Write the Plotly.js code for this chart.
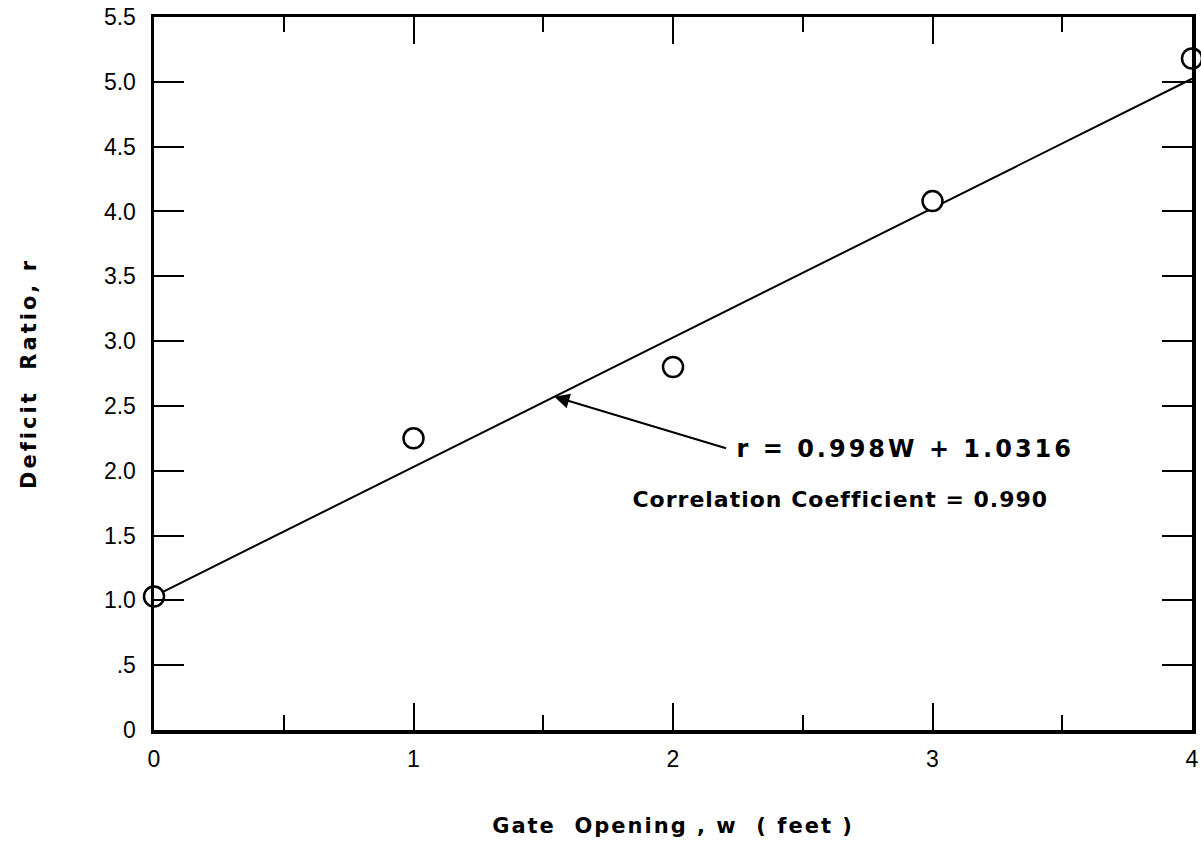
<!DOCTYPE html>
<html>
<head>
<meta charset="utf-8">
<script src="https://cdn.plot.ly/plotly-3.0.1.min.js"></script>
<style>
  html, body { margin: 0; padding: 0; background: #fff; }
  #chart { width: 1201px; height: 855px; }
  #chart .xtitle { letter-spacing: 2px; }
  #chart .ytitle { letter-spacing: 3px; }
  #chart g.annotation[data-index="1"] text { letter-spacing: 3px; }
  #chart g.annotation[data-index="2"] text { letter-spacing: 1px; }
</style>
</head>
<body>
<div id="chart"></div>
<script>
const gateOpening = [0, 1, 2, 3, 4];
const deficitRatio = [1.03, 2.25, 2.80, 4.08, 5.18];

// Regression fit
const slope = 0.998;
const intercept = 1.0316;
const fitRange = [0, 4];

// Tick labels
const xTickVals = [0, 1, 2, 3, 4];
const xTickText = ['0', '1', '2', '3', '4'];
const yTickVals = [0, 0.5, 1.0, 1.5, 2.0, 2.5, 3.0, 3.5, 4.0, 4.5, 5.0, 5.5];
const yTickText = ['0', '.5', '1.0', '1.5', '2.0', '2.5', '3.0', '3.5', '4.0', '4.5', '5.0', '5.5'];

// Annotation texts
const eqText = 'r = 0.998W + 1.0316';
const corrText = 'Correlation Coefficient = 0.990';
const arrowTipX = 1.543;
const arrowTailX = 2.21;
const arrowTailY = 2.17;

const fitY = fitRange.map(x => slope * x + intercept);

const boldFont = 'DejaVu Sans, Liberation Sans, Arial, sans-serif';
const tickFont = 'Liberation Sans, Arial, sans-serif';

const traces = [
  {
    x: fitRange, y: fitY, type: 'scatter', mode: 'lines',
    line: { color: '#000', width: 2 }, hoverinfo: 'skip', showlegend: false
  },
  {
    x: gateOpening, y: deficitRatio, type: 'scatter', mode: 'markers',
    marker: { symbol: 'circle', size: 20, color: '#fff', line: { color: '#000', width: 2.5 } },
    cliponaxis: false, showlegend: false
  }
];

const layout = {
  width: 1201, height: 855,
  margin: { l: 154, r: 9, t: 17, b: 125 },
  paper_bgcolor: '#fff', plot_bgcolor: '#fff',
  showlegend: false,
  xaxis: {
    range: [0, 4], showgrid: false, zeroline: false,
    showline: true, linecolor: '#000', linewidth: 3.5, mirror: 'allticks',
    tickvals: xTickVals, ticktext: xTickText,
    ticks: 'inside', ticklen: 27, tickwidth: 2, tickcolor: '#000',
    minor: { tickvals: [0.5, 1.5, 2.5, 3.5], ticks: 'inside', ticklen: 15, tickwidth: 2, tickcolor: '#000' },
    tickfont: { family: tickFont, size: 23, color: '#000' },
    ticklabelstandoff: 6,
    title: { text: '<b>Gate  Opening , w  ( feet )</b>', font: { family: boldFont, size: 21, color: '#000' }, standoff: 48 },
    automargin: false
  },
  yaxis: {
    range: [0, 5.5], showgrid: false, zeroline: false,
    showline: true, linecolor: '#000', linewidth: 3.5, mirror: 'allticks',
    tickvals: yTickVals, ticktext: yTickText,
    ticks: 'inside', ticklen: 30, tickwidth: 2, tickcolor: '#000',
    tickfont: { family: tickFont, size: 23, color: '#000' },
    ticklabelstandoff: 10,
    title: { text: '<b>Deficit  Ratio, r</b>', font: { family: boldFont, size: 21, color: '#000' }, standoff: 62 },
    automargin: false
  },
  annotations: [
    {
      x: arrowTipX, y: slope * arrowTipX + intercept, xref: 'x', yref: 'y',
      ax: arrowTailX, ay: arrowTailY, axref: 'x', ayref: 'y',
      text: '', showarrow: true, arrowhead: 2, arrowsize: 1.5, arrowwidth: 2, arrowcolor: '#000'
    },
    {
      x: 2.345, y: arrowTailY, xref: 'x', yref: 'y', xanchor: 'left', yanchor: 'middle',
      text: '<b>' + eqText + '</b>', showarrow: false,
      font: { family: boldFont, size: 24, color: '#000' }
    },
    {
      x: 1.898, y: 1.78, xref: 'x', yref: 'y', xanchor: 'left', yanchor: 'middle',
      text: '<b>' + corrText + '</b>', showarrow: false,
      font: { family: boldFont, size: 22, color: '#000' }
    }
  ]
};

Plotly.newPlot('chart', traces, layout, { displayModeBar: false, staticPlot: true });
</script>
</body>
</html>
